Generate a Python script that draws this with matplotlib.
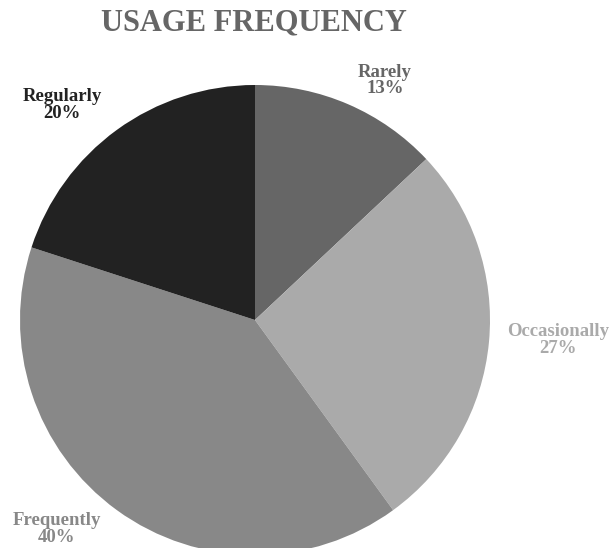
import matplotlib
matplotlib.use("Agg")
import matplotlib.pyplot as plt

categories = ["Rarely", "Occasionally", "Frequently", "Regularly"]
shares = [13, 27, 40, 20]
colors = ["#666666", "#aaaaaa", "#888888", "#222222"]
# label anchor points, in pie-radius units from the centre
label_pos = [(0.553, 1.02), (1.289, -0.085), (-0.843, -0.889), (-0.821, 0.915)]

plt.rcParams['font.family'] = ['Liberation Serif', 'DejaVu Serif']

fig = plt.figure(figsize=(6.12, 5.48), dpi=100)
# square axes so the pie fills it, bottom slightly off the canvas
ax = fig.add_axes([20 / 612, -7 / 548, 470 / 612, 470 / 548])

wedges, _ = ax.pie(shares, colors=colors, startangle=90, counterclock=False,
                   radius=1.0, wedgeprops=dict(linewidth=0))
ax.set_xlim(-1, 1)
ax.set_ylim(-1, 1)
ax.set_aspect('equal')
ax.axis('off')

# labels outside each slice, coloured like the slice
for name, val, col, (lx, ly) in zip(categories, shares, colors, label_pos):
    ax.text(lx, ly, f"{name}\n{val}%",
            ha='center', va='center', color=col, fontsize=13.5,
            fontweight='bold', linespacing=0.95, clip_on=False)

fig.text(254 / 612, 1 - 23 / 548, "USAGE FREQUENCY", ha='center', va='center',
         fontsize=22, fontweight='bold', color='#666666')

fig.savefig("out.png", dpi=100)
